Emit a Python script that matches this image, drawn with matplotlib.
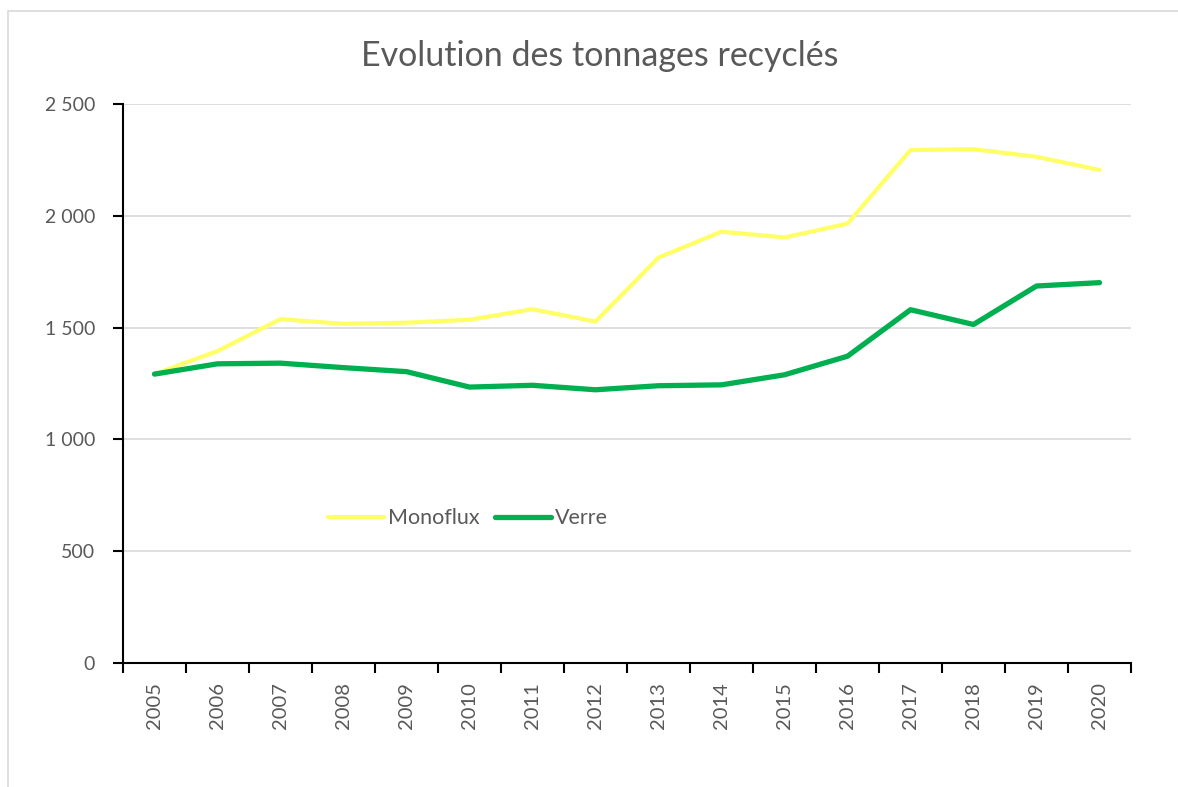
import matplotlib.pyplot as plt
from matplotlib.patches import Rectangle
from matplotlib.ticker import FuncFormatter, FixedLocator

plt.rcParams['font.family'] = ['Lato', 'DejaVu Sans']

years = [str(y) for y in range(2005, 2021)]
monoflux = [1292, 1395, 1538, 1517, 1522, 1535, 1582, 1527, 1813, 1929, 1903, 1965, 2294, 2298, 2264, 2205]
verre = [1292, 1338, 1341, 1321, 1303, 1234, 1242, 1222, 1240, 1244, 1289, 1372, 1580, 1514, 1686, 1701]

text_col = "#595959"

fig = plt.figure(figsize=(11.78, 7.87), dpi=100)
# chart area border (Excel style)
fig.patches.append(Rectangle((8 / 1178, -0.01), 1.1, 1 - 11 / 787 + 0.01,
                             transform=fig.transFigure, fill=False,
                             edgecolor="#D9D9D9", linewidth=1.2))

ax = fig.add_axes([123 / 1178, 1 - 663 / 787, 1008 / 1178, 559 / 787])

x = list(range(len(years)))
ax.plot(x, monoflux, color="#FFFF66", linewidth=3.0, label="Monoflux",
        solid_capstyle="round", solid_joinstyle="round")
ax.plot(x, verre, color="#00B050", linewidth=3.8, label="Verre",
        solid_capstyle="round", solid_joinstyle="round")

ax.set_xlim(-0.5, len(years) - 0.5)
ax.set_ylim(0, 2500)
ax.set_yticks(range(0, 2501, 500))
ax.yaxis.set_major_formatter(FuncFormatter(lambda v, p: f"{int(v):,}".replace(",", " ")))
ax.grid(axis="y", color="#D9D9D9", linewidth=1.2)
ax.set_axisbelow(True)

# category ticks between labels
ax.xaxis.set_major_locator(FixedLocator([i - 0.5 for i in range(len(years) + 1)]))
ax.xaxis.set_major_formatter(FuncFormatter(lambda v, p: ""))
ax.xaxis.set_minor_locator(FixedLocator(x))
ax.set_xticklabels(years, minor=True, rotation=90)
ax.tick_params(axis="x", which="minor", length=0, pad=14, labelsize=14.5, labelcolor=text_col)
ax.tick_params(axis="x", which="major", length=7, width=1.5, color="black")
ax.tick_params(axis="y", length=7, width=1.5, color="black", labelsize=14,
               labelcolor=text_col, pad=13)

for s in ["top", "right"]:
    ax.spines[s].set_visible(False)
ax.spines["left"].set_linewidth(1.5)
ax.spines["bottom"].set_linewidth(1.5)

fig.text(600 / 1178, 1 - 56 / 787, "Evolution des tonnages recyclés", ha="center", va="center",
         fontsize=24.5, color=text_col)

leg = ax.legend(loc="center", bbox_to_anchor=(0.342, 0.259), ncol=2, frameon=False,
                fontsize=15.5, handlelength=2.6, columnspacing=0.7, handletextpad=0.2)
for t in leg.get_texts():
    t.set_color(text_col)

fig.savefig("out.png", dpi=100)
